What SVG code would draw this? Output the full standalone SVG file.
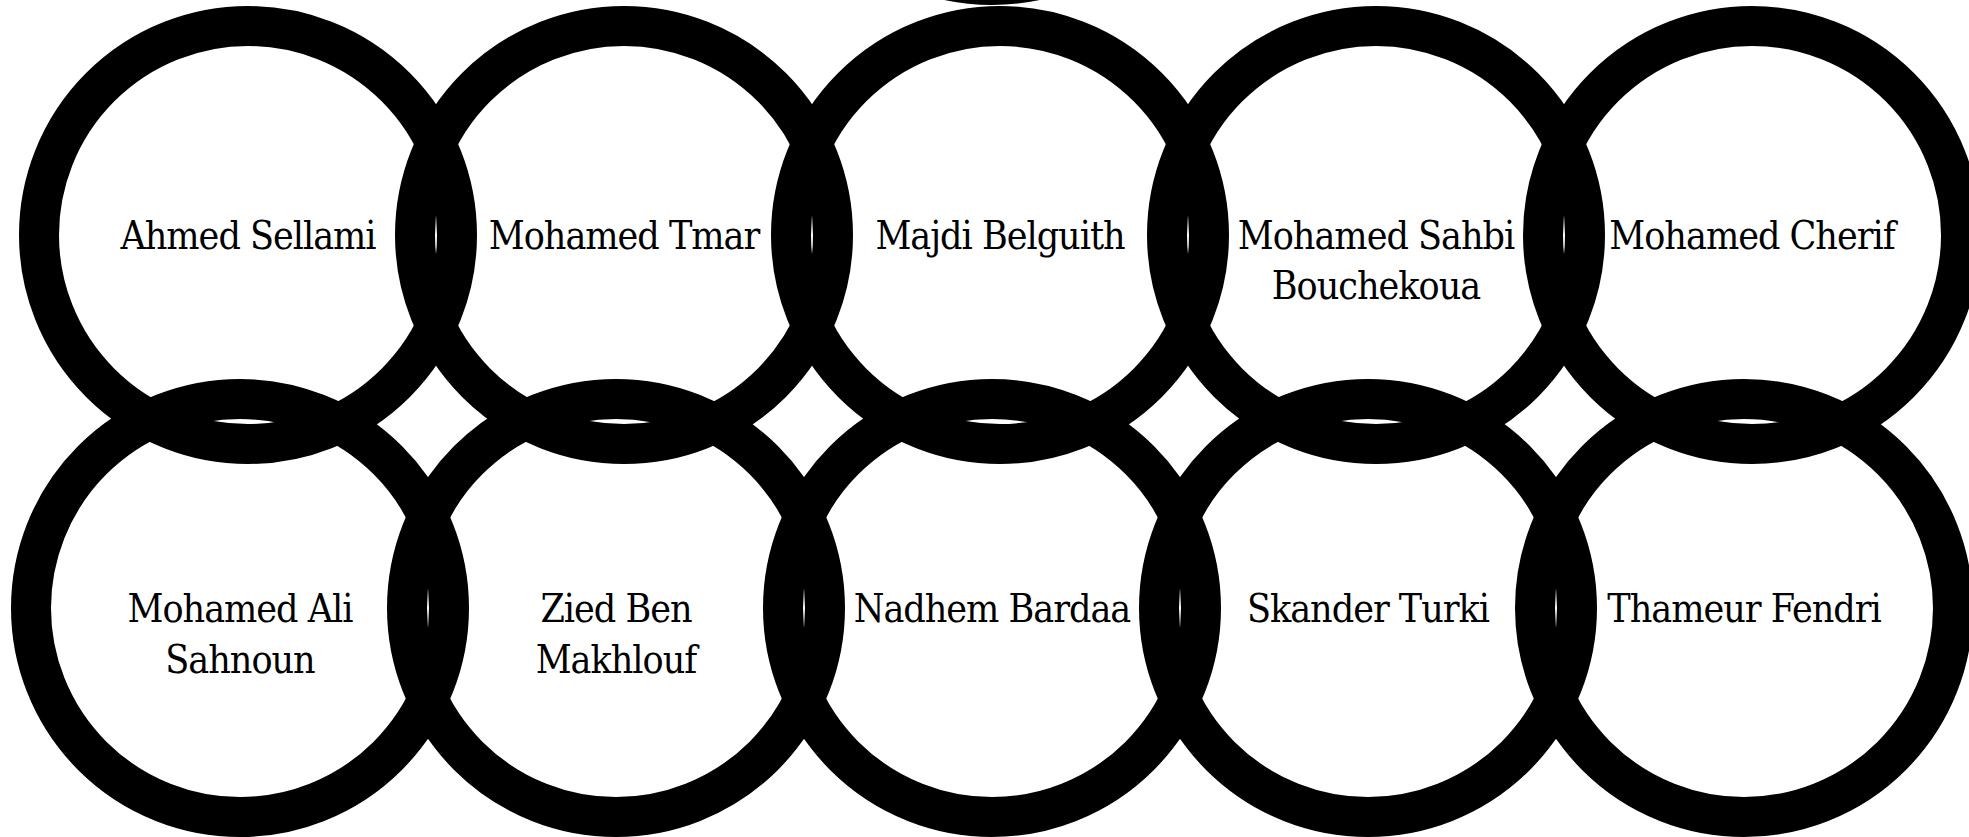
<svg xmlns="http://www.w3.org/2000/svg" width="1969" height="837" viewBox="0 0 1969 837">
<style>
.ring{fill:none;stroke:#000;stroke-width:40}
.lbl{font-family:"DejaVu Serif Condensed","DejaVu Serif",serif;font-stretch:condensed;font-size:39px;letter-spacing:-1px;fill:#000;text-anchor:middle}
</style>
<rect width="1969" height="837" fill="#fff"/>
<g id="edges"></g>
<g id="extra-top"><circle class="ring" cx="992" cy="-224" r="209"/></g>
<g id="n1"><circle class="ring" cx="248" cy="235" r="209"/><text class="lbl" x="248" y="249">Ahmed Sellami</text></g>
<g id="n2"><circle class="ring" cx="624" cy="235" r="209"/><text class="lbl" x="624" y="249">Mohamed Tmar</text></g>
<g id="n3"><circle class="ring" cx="1000" cy="235" r="209"/><text class="lbl" x="1000" y="249">Majdi Belguith</text></g>
<g id="n4"><circle class="ring" cx="1376" cy="235" r="209"/><text class="lbl" x="1376" y="249">Mohamed Sahbi</text><text class="lbl" x="1376" y="299">Bouchekoua</text></g>
<g id="n5"><circle class="ring" cx="1752" cy="235" r="209"/><text class="lbl" x="1752" y="249">Mohamed Cherif</text></g>
<g id="n6"><circle class="ring" cx="240" cy="608" r="209"/><text class="lbl" x="240" y="622">Mohamed Ali</text><text class="lbl" x="240" y="673">Sahnoun</text></g>
<g id="n7"><circle class="ring" cx="616" cy="608" r="209"/><text class="lbl" x="616" y="622">Zied Ben</text><text class="lbl" x="616" y="673">Makhlouf</text></g>
<g id="n8"><circle class="ring" cx="992" cy="608" r="209"/><text class="lbl" x="992" y="622">Nadhem Bardaa</text></g>
<g id="n9"><circle class="ring" cx="1368" cy="608" r="209"/><text class="lbl" x="1368" y="622">Skander Turki</text></g>
<g id="n10"><circle class="ring" cx="1744" cy="608" r="209"/><text class="lbl" x="1744" y="622">Thameur Fendri</text></g>
</svg>
